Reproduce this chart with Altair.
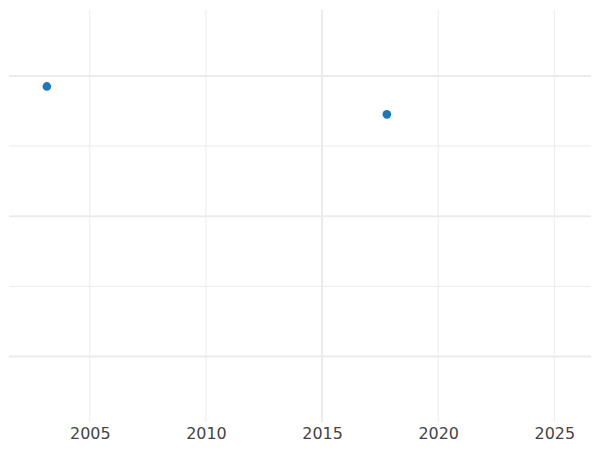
import altair as alt
import pandas as pd

# data
years = [2003.15, 2017.79]
values = [1.925, 1.726]
x_ticks = [2005, 2010, 2015, 2020, 2025]
x_major = [2015]
x_minor = [2005, 2010, 2020, 2025]
y_major = [0, 1, 2]
y_minor = [0.5, 1.5, 2.5]

pts = pd.DataFrame({"year": years, "value": values})
xs = alt.Scale(domain=[2001.52, 2026.58], nice=False, zero=False)
ys = alt.Scale(domain=[-0.469, 2.4716], nice=False, zero=False)
GRID = "#ebebeb"

xaxis = alt.Axis(values=x_ticks, format="d", grid=False, ticks=False, domain=False,
                 labelFontSize=16, labelColor="#444444", labelFont="DejaVu Sans",
                 labelPadding=3, title=None)

vmin = alt.Chart(pd.DataFrame({"x": x_minor})).mark_rule(color=GRID, strokeWidth=1).encode(
    x=alt.X("x:Q", scale=xs, axis=xaxis))
vmaj = alt.Chart(pd.DataFrame({"x": x_major})).mark_rule(color=GRID, strokeWidth=2).encode(
    x=alt.X("x:Q", scale=xs))
hmin = alt.Chart(pd.DataFrame({"y": y_minor})).mark_rule(color=GRID, strokeWidth=1, clip=True).encode(
    y=alt.Y("y:Q", scale=ys, axis=None))
hmaj = alt.Chart(pd.DataFrame({"y": y_major})).mark_rule(color=GRID, strokeWidth=2).encode(
    y=alt.Y("y:Q", scale=ys, axis=None))
points = alt.Chart(pts).mark_circle(size=75, color="#1f77b4", opacity=1).encode(
    x=alt.X("year:Q", scale=xs),
    y=alt.Y("value:Q", scale=ys, axis=None))

chart = alt.layer(vmin, vmaj, hmin, hmaj, points).properties(
    width=584, height=414, padding=0
).configure_view(stroke=None)

chart.save("out.html", embed_options={"renderer": "svg", "actions": False})
